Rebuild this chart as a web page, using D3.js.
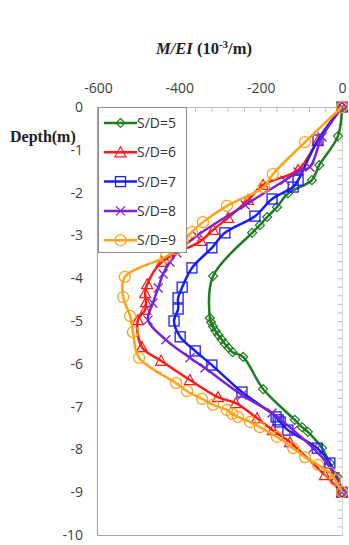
<!DOCTYPE html>
<html><head><meta charset="utf-8">
<script src="https://cdn.jsdelivr.net/npm/d3@7"></script>
<style>body{margin:0;background:#fff}svg{display:block}</style>
</head><body>
<svg id="c" width="349" height="545"></svg>
<script>
const xTicks = [-600, -400, -200, 0];
const yTicks = [0, -1, -2, -3, -4, -5, -6, -7, -8, -9, -10];
const seriesNames = ["S/D=5", "S/D=6", "S/D=7", "S/D=8", "S/D=9"];
const sd5 = [[0,0],[-10,-0.68],[-56,-1.36],[-74,-1.71],[-133,-2.02],[-160,-2.34],[-184,-2.57],[-202,-2.76],[-221,-2.94],[-317,-3.95],[-325,-4.93],[-322,-5.03],[-317,-5.13],[-311,-5.23],[-304,-5.33],[-296,-5.43],[-288,-5.53],[-279,-5.63],[-269,-5.73],[-243,-5.84],[-194,-6.59],[-116,-7.31],[-98,-7.48],[-84,-7.59],[-49,-7.97],[-30,-8.32],[-12,-8.64],[0,-9]];
const sd6 = [[0,0],[-60,-0.8],[-108,-1.47],[-194,-1.82],[-231,-2.17],[-280,-2.59],[-317,-2.87],[-347,-3.13],[-443,-3.62],[-479,-4.14],[-484,-4.35],[-482,-4.56],[-484,-4.74],[-502,-4.98],[-492,-5.61],[-445,-5.93],[-374,-6.38],[-305,-6.78],[-261,-6.92],[-209,-7.27],[-170,-7.55],[-128,-7.83],[-42,-8.6],[0,-9]];
const sd7 = [[0,0],[-59,-0.77],[-108,-1.71],[-120,-1.87],[-172,-2.15],[-214,-2.55],[-288,-2.94],[-320,-3.29],[-369,-3.76],[-393,-4.21],[-403,-4.46],[-403,-4.72],[-413,-5.0],[-398,-5.37],[-361,-5.70],[-320,-6.03],[-246,-6.66],[-162,-7.24],[-157,-7.31],[-152,-7.36],[-133,-7.55],[-61,-7.97],[-30,-8.32],[0,-9]];
const sd8 = [[0,0],[-49,-0.70],[-79,-1.40],[-108,-1.52],[-140,-1.71],[-238,-2.29],[-357,-3.01],[-406,-3.41],[-423,-3.62],[-440,-3.90],[-452,-4.23],[-465,-4.58],[-477,-4.98],[-433,-5.44],[-374,-5.86],[-337,-6.10],[-246,-6.73],[-172,-7.15],[-120,-7.55],[-71,-7.97],[-37,-8.32],[-17,-8.64],[0,-9]];
const sd9 = [[0,0],[-91,-0.82],[-170,-1.57],[-192,-1.87],[-283,-2.31],[-342,-2.69],[-369,-2.92],[-391,-3.13],[-408,-3.32],[-433,-3.5],[-534,-3.97],[-538,-4.44],[-521,-4.88],[-514,-5.26],[-499,-5.86],[-408,-6.45],[-381,-6.64],[-344,-6.82],[-317,-6.96],[-283,-7.08],[-270,-7.17],[-256,-7.24],[-226,-7.36],[-202,-7.48],[-160,-7.71],[-120,-7.97],[-91,-8.18],[-59,-8.36],[-30,-8.55],[-17,-8.71],[0,-9]];

const colors = ["#1e7d1e", "#ff1a1a", "#1a1aff", "#7a22d6", "#ffa31a"];
const markers = ["diamond", "triangle", "square", "cross", "circle"];
const allSeries = [sd5, sd6, sd7, sd8, sd9];
const fmt = d => String(d);

const svg = d3.select("#c");
const x = d3.scaleLinear().domain([-600, 0]).range([98, 342]);
const y = d3.scaleLinear().domain([0, -10]).range([107, 535]);

// plot border lines
svg.append("line").attr("x1",97.5).attr("x2",97.5).attr("y1",107).attr("y2",535.5).attr("stroke","#a6a6a6").attr("stroke-width",1.2);
svg.append("line").attr("x1",97).attr("x2",342).attr("y1",535.5).attr("y2",535.5).attr("stroke","#a6a6a6").attr("stroke-width",1.2);

// top axis
const topAxis = d3.axisTop(x).tickValues(xTicks).tickSize(0).tickPadding(0).tickFormat(fmt);
const gTop = svg.append("g").attr("transform","translate(0,107)").call(topAxis);
gTop.select(".domain").attr("stroke","#bfbfbf");
gTop.selectAll("text").attr("y",-14).attr("font-family","'Open Sans', sans-serif").attr("font-size",14).attr("fill","#404040");
// top minor ticks
svg.append("g").selectAll("line").data(d3.range(-600, 1, 40)).join("line")
  .attr("x1",d=>x(d)).attr("x2",d=>x(d)).attr("y1",107).attr("y2",112).attr("stroke","#bfbfbf");

// right axis ticks
svg.append("line").attr("x1",342.5).attr("x2",342.5).attr("y1",107).attr("y2",535).attr("stroke","#d9d9d9");
svg.append("g").selectAll("line").data(d3.range(0, 50.5, 1).map(i=>-i*0.2)).join("line")
  .attr("x1",338).attr("x2",343).attr("y1",d=>y(d)+0.5).attr("y2",d=>y(d)+0.5).attr("stroke","#bfbfbf");

// left tick labels
const leftAxis = d3.axisLeft(y).tickValues(yTicks).tickSize(0).tickPadding(0).tickFormat(fmt);
const gLeft = svg.append("g").attr("transform","translate(83,0)").call(leftAxis);
gLeft.select(".domain").remove();
gLeft.selectAll("text").attr("font-family","'Open Sans', sans-serif").attr("font-size",14).attr("fill","#404040");

// titles
const t = svg.append("text").attr("x",204).attr("y",54).attr("text-anchor","middle")
  .attr("font-family","'Liberation Serif', serif").attr("font-weight","bold").attr("font-size",16.5).attr("fill","#222");
t.append("tspan").attr("font-style","italic").text("M/EI");
t.append("tspan").text(" (10");
t.append("tspan").attr("font-size",11).attr("dy",-6).text("-3");
t.append("tspan").attr("dy",6).text("/m)");
svg.append("text").attr("x",10).attr("y",142).attr("font-family","'Liberation Serif', serif")
  .attr("font-weight","bold").attr("font-size",16).attr("fill","#222").text("Depth(m)");

function drawMarker(g, type, color, cx, cy) {
  const s = 4.5;
  if (type === "diamond") {
    g.append("path").attr("d",`M${cx},${cy-s}L${cx+s},${cy}L${cx},${cy+s}L${cx-s},${cy}Z`).attr("fill","none").attr("stroke",color).attr("stroke-width",1.2);
  } else if (type === "triangle") {
    g.append("path").attr("d",`M${cx},${cy-5.5}L${cx+5.5},${cy+4.5}L${cx-5.5},${cy+4.5}Z`).attr("fill","none").attr("stroke",color).attr("stroke-width",1.2);
  } else if (type === "square") {
    g.append("rect").attr("x",cx-5).attr("y",cy-5).attr("width",10).attr("height",10).attr("fill","none").attr("stroke",color).attr("stroke-width",1.3);
  } else if (type === "cross") {
    g.append("path").attr("d",`M${cx-4.5},${cy-4.5}L${cx+4.5},${cy+4.5}M${cx+4.5},${cy-4.5}L${cx-4.5},${cy+4.5}`).attr("stroke",color).attr("stroke-width",1.3);
  } else {
    g.append("circle").attr("cx",cx).attr("cy",cy).attr("r",5.5).attr("fill","none").attr("stroke",color).attr("stroke-width",1.3);
  }
}

const line = d3.line().x(d=>x(d[0])).y(d=>y(d[1])).curve(d3.curveCatmullRom.alpha(0.5));
allSeries.forEach((data, i) => {
  const g = svg.append("g");
  g.append("path").datum(data).attr("d", line).attr("fill","none").attr("stroke",colors[i]).attr("stroke-width",2.5);
  data.forEach(d => drawMarker(g, markers[i], colors[i], x(d[0]), y(d[1])));
});

// legend
const lg = svg.append("g");
lg.append("rect").attr("x",98.5).attr("y",107.5).attr("width",88).attr("height",145).attr("fill","#fff").attr("stroke","#8c8c8c");
seriesNames.forEach((name, i) => {
  const yy = 123 + i * 29.3;
  lg.append("line").attr("x1",104).attr("x2",137).attr("y1",yy).attr("y2",yy).attr("stroke",colors[i]).attr("stroke-width",2.5);
  drawMarker(lg, markers[i], colors[i], 120.5, yy);
  lg.append("text").attr("x",137).attr("y",yy+5).attr("font-family","'Open Sans', sans-serif").attr("font-size",14).attr("fill","#333").text(name);
});
</script>
</body></html>
